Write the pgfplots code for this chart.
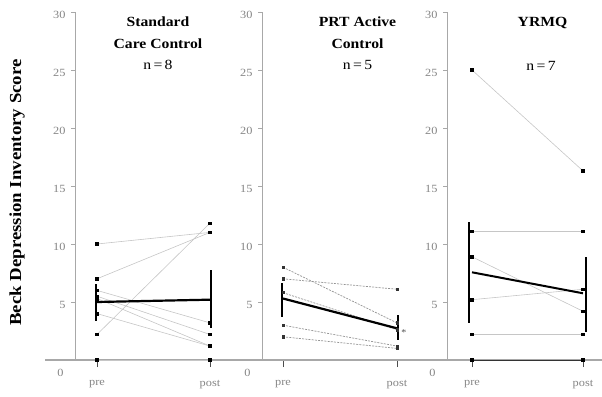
\documentclass[border=0pt]{standalone}
\usepackage{fontspec}
\setmainfont{Liberation Serif}[FakeStretch=1.12]
\usepackage{pgfplots}
\pgfplotsset{compat=1.18}
\definecolor{axgray}{HTML}{A8A8A8}
\definecolor{lblgray}{HTML}{858585}
\pgfplotsset{
  panel/.style={
    scale only axis, height=348pt, ymin=0, ymax=30,
    ytick={5,10,...,30}, xtick={0,1}, xticklabels={pre,post},
    axis x line*=bottom, axis y line*=left,
    x axis line style={line width=1.6pt, axgray},
    y axis line style={line width=0.8pt, axgray},
    tick align=outside, major tick length=4pt,
    ytick style={axgray, line width=0.7pt},
    xtick style={/pgfplots/major tick length=7pt, line width=0.8pt, black!70},
    every tick label/.append style={font=\fontsize{11}{11}\selectfont, text=lblgray},
    /pgf/number format/assume math mode=true,
    yticklabel style={yshift=-3pt, xshift=-2pt},
    xticklabel style={yshift=-13pt},
    extra y ticks={0},
    extra y tick style={major tick length=0pt, yticklabel style={yshift=-10pt, xshift=-6pt}},
    clip=false,
  },
  subj/.style={gray!45, line width=0.6pt, mark=square*, mark size=1.3pt, mark options={black, solid}},
  subjd/.style={gray!85, line width=0.7pt, dash pattern=on 2pt off 1.2pt, mark=square*, mark size=1.1pt, mark options={black!80, solid}},
  meanl/.style={black, line width=2.2pt, mark=none},
}
\newcommand{\errbars}[1]{\addplot[draw=none, mark=none, forget plot, error bars/.cd, y dir=both, y explicit, error mark=none, error bar style={draw=black, line width=#1, solid}]}
\begin{document}
\begin{tikzpicture}
\useasboundingbox (0,0) rectangle (602pt,396pt);
% Panel 1
\begin{axis}[panel, at={(75pt,36pt)}, anchor=south west, width=187pt, xmin=-0.1947, xmax=1.4602]
\addplot[subj] coordinates {(0,10) (1,11)};
\addplot[subj] coordinates {(0,7) (1,11)};
\addplot[subj] coordinates {(0,2.2) (1,11.8)};
\addplot[subj] coordinates {(0,6) (1,3.2)};
\addplot[subj] coordinates {(0,5.5) (1,2.2)};
\addplot[subj] coordinates {(0,5.3) (1,1.2)};
\addplot[subj] coordinates {(0,4) (1,1.2)};
\addplot[subj] coordinates {(0,0) (1,0)};
\addplot[meanl] coordinates {(0,5.0) (1,5.2)};
\errbars{2.2pt} coordinates {(-0.012,4.96) +- (0,1.6) (1.012,5.28) +- (0,2.48)};
\end{axis}
% Panel 2
\begin{axis}[panel, at={(262pt,36pt)}, anchor=south west, width=185pt, xmin=-0.1842, xmax=1.4386]
\addplot[subjd] coordinates {(0,8) (1,3.2)};
\addplot[subjd] coordinates {(0,7) (1,6.1)};
\addplot[subjd] coordinates {(0,5.8) (1,2.6)};
\addplot[subjd] coordinates {(0,3) (1,1.2)};
\addplot[subjd] coordinates {(0,2) (1,1.0)};
\addplot[meanl] coordinates {(0,5.3) (1,2.73)};
\errbars{2.2pt} coordinates {(-0.01,5.17) +- (0,1.43) (1.01,2.8) +- (0,1.1)};
\node[font=\fontsize{9}{9}\selectfont, text=black!70] at (axis cs:1.06,2.4) {*};
\end{axis}
% Panel 3
\begin{axis}[panel, at={(447pt,36pt)}, anchor=south west, width=155pt, xmin=-0.2252, xmax=1.1712]
\addplot[subj] coordinates {(0,25) (1,16.3)};
\addplot[subj] coordinates {(0,11.1) (1,11.1)};
\addplot[subj] coordinates {(0,8.9) (1,4.2)};
\addplot[subj] coordinates {(0,5.2) (1,6.1)};
\addplot[subj] coordinates {(0,2.2) (1,2.2)};
\addplot[subj, black!80] coordinates {(0,0) (1,0)};
\addplot[subj, black!80] coordinates {(0,0) (1,0)};
\addplot[meanl, line width=2pt] coordinates {(0,7.56) (1,5.75)};
\errbars{1.8pt} coordinates {(-0.025,7.55) +- (0,4.35) (1.03,5.65) +- (0,3.2)};
\end{axis}
% left extension of baseline
\draw[axgray, line width=1.6pt] (45pt,36pt) -- (75pt,36pt);
% titles
\begin{scope}[every node/.style={anchor=base, inner sep=0pt, font=\fontsize{14}{14}\selectfont}]
\node at (158pt,369pt) {\bfseries Standard};
\node at (158pt,347.7pt) {\bfseries Care Control};
\node at (158pt,326pt) {n\,=\,8};
\node at (357.5pt,369pt) {\bfseries PRT Active};
\node at (357.5pt,347.7pt) {\bfseries Control};
\node at (357.5pt,326pt) {n\,=\,5};
\node at (542.5pt,369pt) {\bfseries YRMQ};
\node at (541pt,325.3pt) {n\,=\,7};
\end{scope}
\node[rotate=90, anchor=base, inner sep=0pt, font=\fontsize{16.8}{16.8}\selectfont\bfseries] at (21pt,203.5pt) {Beck Depression Inventory Score};
\end{tikzpicture}
\end{document}
